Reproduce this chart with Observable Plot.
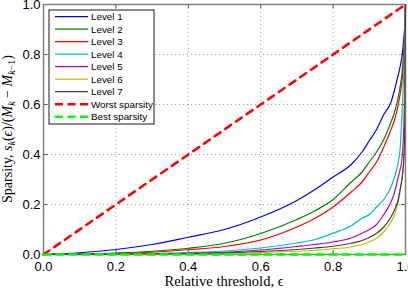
<!DOCTYPE html>
<html>
<head>
<meta charset="utf-8">
<script src="https://cdn.jsdelivr.net/npm/d3@7"></script>
<script src="https://cdn.jsdelivr.net/npm/@observablehq/plot@0.6"></script>
<style>
  html, body { margin: 0; padding: 0; background: #fff; }
  #chart svg { display: block; }
</style>
</head>
<body>
<div id="chart"></div>
<script>
// ---- data ----
const xs = [0, 0.1, 0.2, 0.3, 0.4, 0.5, 0.6, 0.7, 0.75, 0.8, 0.85, 0.88, 0.9, 0.92, 0.94, 0.96, 0.97, 0.98, 0.985, 0.99, 0.995, 0.998, 1];
const level1 = [0, 0.007, 0.02, 0.04, 0.069, 0.1, 0.15, 0.216, 0.26, 0.31, 0.36, 0.41, 0.455, 0.5, 0.56, 0.61, 0.66, 0.72, 0.75, 0.79, 0.86, 0.92, 1];
const level2 = [0, 0.002, 0.006, 0.013, 0.025, 0.045, 0.084, 0.14, 0.175, 0.22, 0.29, 0.33, 0.37, 0.41, 0.46, 0.53, 0.57, 0.63, 0.67, 0.72, 0.81, 0.89, 1];
const level3 = [0, 0.001, 0.004, 0.009, 0.019, 0.032, 0.058, 0.11, 0.145, 0.19, 0.25, 0.29, 0.33, 0.37, 0.43, 0.5, 0.54, 0.6, 0.64, 0.69, 0.78, 0.87, 1];
const level4 = [0, 0.0005, 0.002, 0.004, 0.008, 0.014, 0.026, 0.046, 0.06, 0.085, 0.115, 0.145, 0.16, 0.19, 0.22, 0.27, 0.31, 0.37, 0.42, 0.55, 0.72, 0.85, 1];
const level5 = [0, 0.0002, 0.001, 0.002, 0.005, 0.009, 0.018, 0.032, 0.04, 0.05, 0.066, 0.085, 0.1, 0.12, 0.16, 0.21, 0.25, 0.31, 0.34, 0.38, 0.5, 0.7, 1];
const level6 = [0, 0, 0.0005, 0.001, 0.002, 0.004, 0.008, 0.013, 0.017, 0.023, 0.03, 0.04, 0.05, 0.065, 0.09, 0.13, 0.16, 0.21, 0.25, 0.3, 0.38, 0.5, 1];
const level7 = [0, 0.0002, 0.001, 0.002, 0.004, 0.007, 0.012, 0.02, 0.026, 0.033, 0.045, 0.056, 0.068, 0.085, 0.11, 0.15, 0.18, 0.22, 0.26, 0.3, 0.37, 0.5, 1];
const levels = [level1, level2, level3, level4, level5, level6, level7];
const levelNames = ["Level 1", "Level 2", "Level 3", "Level 4", "Level 5", "Level 6", "Level 7"];
const levelColors = ["#0000ff", "#008000", "#ff0000", "#00bfbf", "#bf00bf", "#bfbf00", "#404040"];

const worstX = [0, 1], worstY = [0, 1];
const bestX = [0, 1], bestY = [0, 0];
const refNames = ["Worst sparsity", "Best sparsity"];
const refColors = ["#ff0000", "#00ff00"];

const xTicks = [0, 0.2, 0.4, 0.6, 0.8, 1];
const yTicks = [0, 0.2, 0.4, 0.6, 0.8, 1];

// ---- build ----
const W = 408, H = 290;
const mL = 43, mR = 3, mT = 4, mB = 36;
const fw = W - mL - mR, fh = H - mT - mB;

const levelMarks = levels.map((ys, k) =>
  Plot.line(xs.map((x, i) => ({x, y: ys[i]})), {x: "x", y: "y", stroke: levelColors[k], strokeWidth: 1.2, curve: "monotone-x"})
);

const plot = Plot.plot({
  width: W, height: H,
  marginLeft: mL, marginRight: mR, marginTop: mT, marginBottom: mB,
  style: {fontFamily: "'Liberation Sans', Arial, sans-serif", fontSize: "13px", color: "#000", background: "#fff"},
  x: {domain: [0, 1], ticks: xTicks, label: null},
  y: {domain: [0, 1], ticks: yTicks, label: null},
  marks: [
    Plot.gridX(xTicks.slice(1, -1), {stroke: "#a0a0a0", strokeOpacity: 1, strokeDasharray: "1,3"}),
    Plot.gridY(yTicks.slice(1, -1), {stroke: "#a0a0a0", strokeOpacity: 1, strokeDasharray: "1,3"}),
    Plot.ruleX(xTicks, {stroke: "#555", insetTop: fh - 4}),
    Plot.ruleX(xTicks, {stroke: "#555", insetBottom: fh - 4}),
    Plot.ruleY(yTicks, {stroke: "#555", insetRight: fw - 4}),
    Plot.ruleY(yTicks, {stroke: "#555", insetLeft: fw - 4}),
    Plot.frame({stroke: "#808080", strokeWidth: 1.5}),
    Plot.axisX(xTicks, {tickSize: 0, tickPadding: 7, fontSize: 13}),
    Plot.axisY(yTicks, {tickSize: 0, tickPadding: 3, fontSize: 13}),
    ...levelMarks,
    Plot.line(worstX.map((x, i) => ({x, y: worstY[i]})), {x: "x", y: "y", stroke: refColors[0], strokeWidth: 2.6, strokeDasharray: "7,6"}),
    Plot.line(bestX.map((x, i) => ({x, y: bestY[i]})), {x: "x", y: "y", stroke: refColors[1], strokeWidth: 2.6, strokeDasharray: "7,6"})
  ]
});

const svg = d3.select(plot);

// x label
svg.append("text")
  .attr("x", mL + fw / 2).attr("y", 286)
  .attr("text-anchor", "middle")
  .attr("font-family", "'Liberation Serif', 'DejaVu Serif', serif")
  .attr("font-size", 14.5)
  .attr("fill", "#000")
  .text("Relative threshold, ϵ");

// y label with subscripts
const yl = svg.append("text")
  .attr("transform", `translate(12,${mT + fh / 2}) rotate(-90)`)
  .attr("text-anchor", "middle")
  .attr("font-family", "'Liberation Serif', 'DejaVu Serif', serif")
  .attr("font-size", 14)
  .attr("fill", "#000");
const parts = [
  ["Sparsity, ", 0, false, 14], ["s", 0, true, 14], ["k", 3, true, 10], ["(", -3, false, 14],
  ["ϵ", 0, true, 14], [")/(", 0, false, 14], ["M", 0, true, 14], ["k", 3, true, 10],
  [" − ", -3, false, 14], ["M", 0, true, 14], ["k", 3, true, 10], ["−1", 0, false, 10], [")", -3, false, 14]
];
for (const [t, dy, it, fs] of parts) {
  yl.append("tspan").attr("dy", dy).attr("font-style", it ? "italic" : "normal").attr("font-size", fs).text(t);
}

// legend (inside the frame, top-left)
const lg = svg.append("g")
  .attr("font-family", "'Liberation Sans', Arial, sans-serif")
  .attr("font-size", 9.8)
  .attr("text-anchor", "start");
lg.append("rect").attr("x", 49).attr("y", 10).attr("width", 105).attr("height", 114)
  .attr("fill", "#fff").attr("stroke", "#000").attr("stroke-width", 0.9);
const entries = levelNames.map((n, k) => ({name: n, color: levelColors[k], dash: null, w: 1.2}))
  .concat(refNames.map((n, k) => ({name: n, color: refColors[k], dash: "8,4.5", w: 2.6})));
entries.forEach((e, i) => {
  const cy = 16.7 + i * 12.5;
  lg.append("line").attr("x1", 55).attr("x2", 88).attr("y1", cy).attr("y2", cy)
    .attr("stroke", e.color).attr("stroke-width", e.w).attr("stroke-dasharray", e.dash);
  lg.append("text").attr("x", 91).attr("y", cy).attr("dy", "0.35em")
    .attr("text-anchor", "start").attr("fill", "#000").text(e.name);
});

document.getElementById("chart").appendChild(plot);
</script>
</body>
</html>
